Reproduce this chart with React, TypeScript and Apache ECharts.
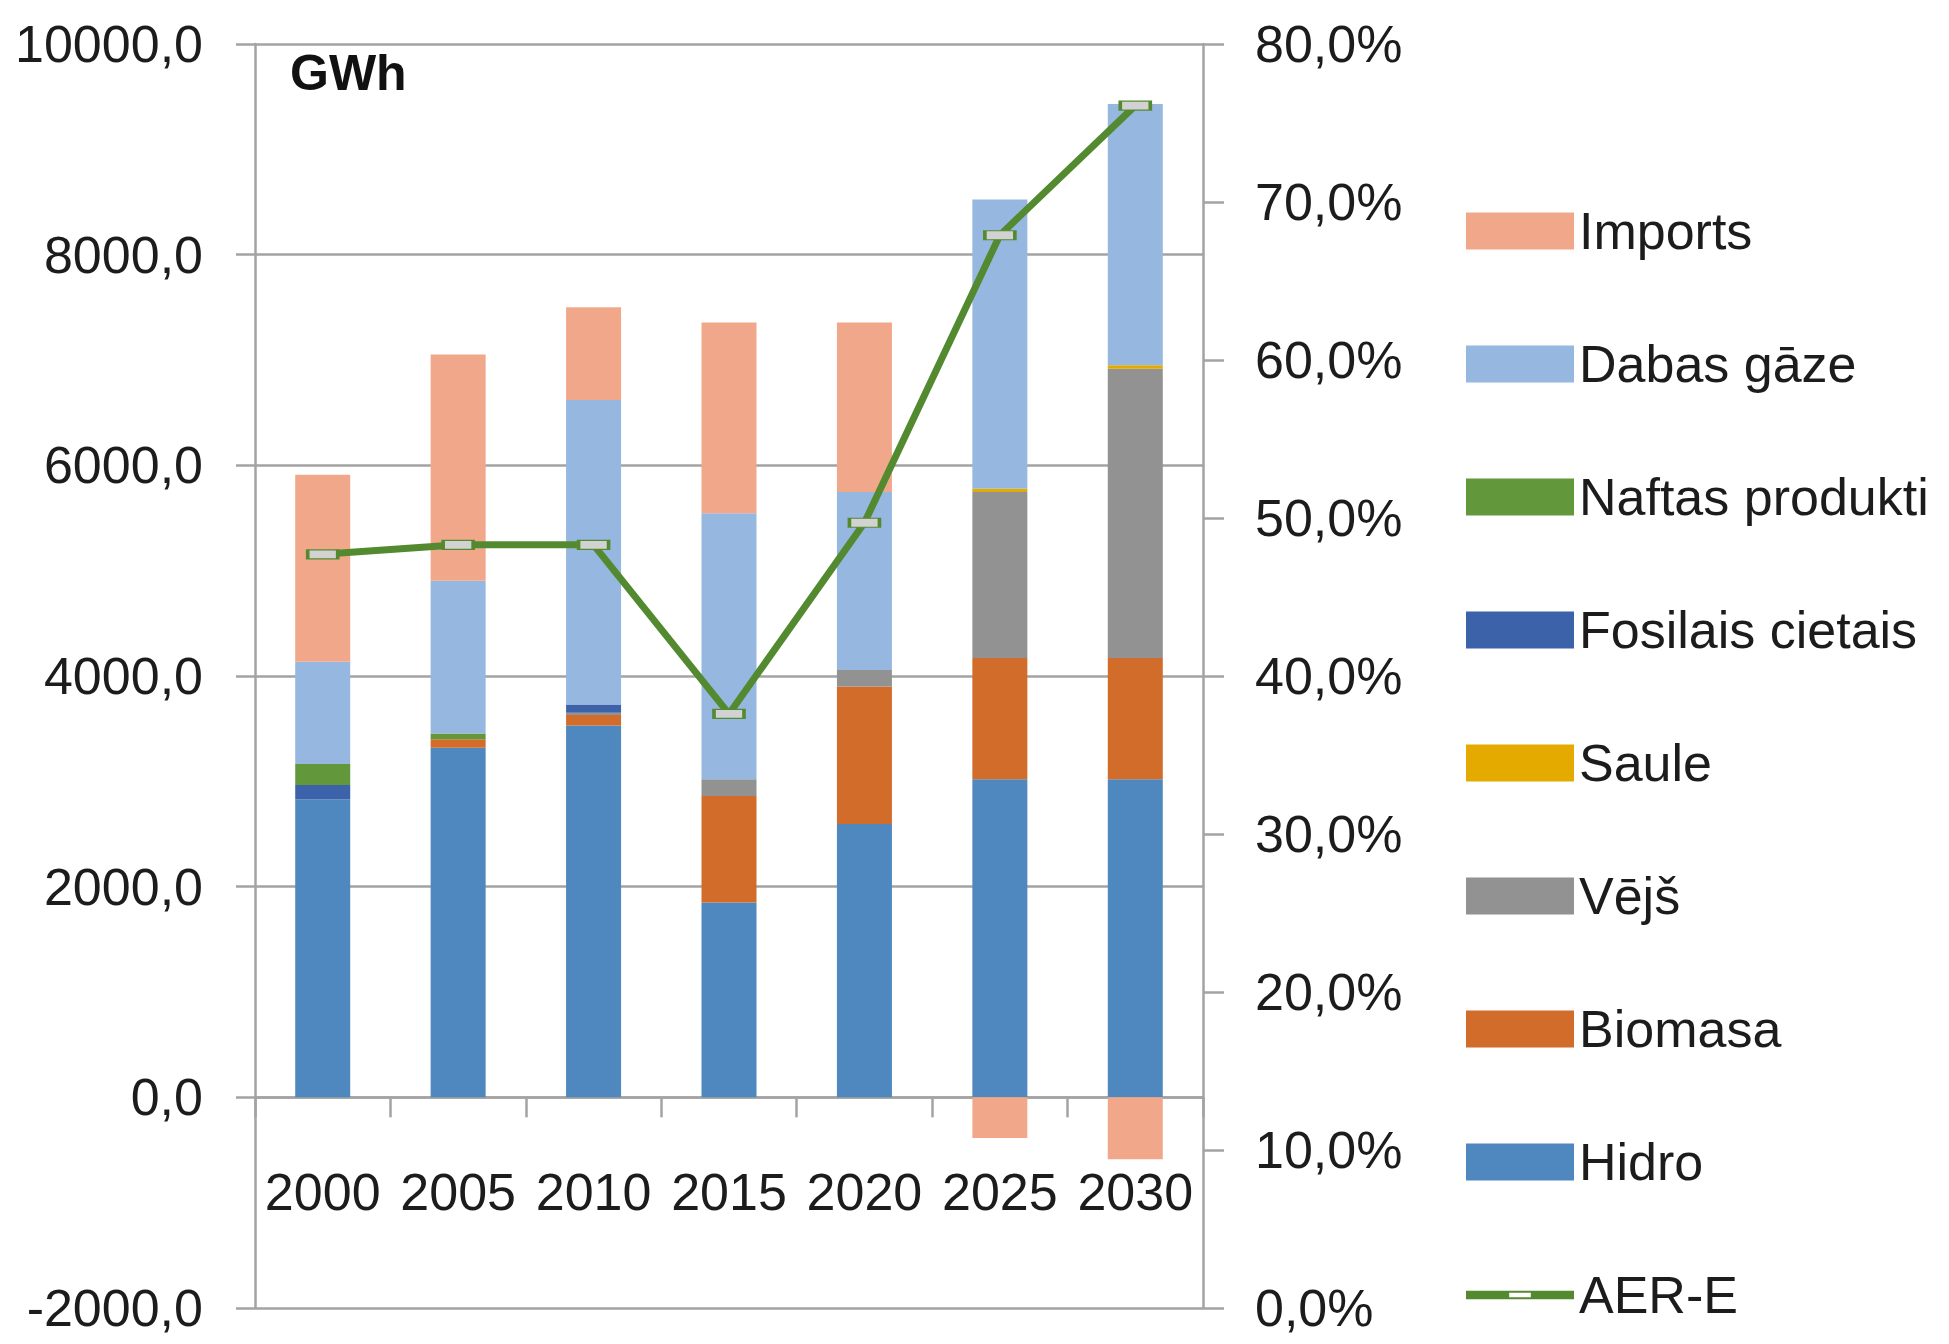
import React, { useEffect, useRef } from 'react';
import * as echarts from 'echarts';

const years = ['2000', '2005', '2010', '2015', '2020', '2025', '2030'];
const hidro = [2830, 3320, 3530, 1850, 2595, 3020, 3020];
const biomasa = [0, 80, 100, 1010, 1305, 1150, 1150];
const vejs = [0, 0, 20, 160, 157, 1578, 2747];
const saule = [0, 0, 0, 0, 0, 30, 34];
const fosilais = [135, 0, 80, 0, 0, 0, 0];
const naftas = [200, 55, 0, 0, 0, 0, 0];
const gaze = [970, 1450, 2890, 2525, 1690, 2745, 2480];
const imports = [1775, 2147, 880, 1810, 1610, -385, -588];
const aerE = [47.7, 48.3, 48.3, 37.6, 49.7, 67.9, 76.1];
const legendOrder = ['Imports', 'Dabas gāze', 'Naftas produkti', 'Fosilais cietais', 'Saule', 'Vējš', 'Biomasa', 'Hidro', 'AER-E'];

const FONT = '"Liberation Sans", Arial, sans-serif';
const FS = 52;
const TEXT = '#1c1c1c';
const GRID = '#A3A3A3';
const LINE_GREEN = '#538A30';

export default function App() {
  const ref = useRef<HTMLDivElement>(null);
  useEffect(() => {
    if (!ref.current) return;
    const chart = echarts.init(ref.current, null, { renderer: 'svg' });
    const barSeries = [
      { name: 'Hidro', data: hidro, color: '#4F88BE' },
      { name: 'Biomasa', data: biomasa, color: '#D26C2A' },
      { name: 'Vējš', data: vejs, color: '#929292' },
      { name: 'Saule', data: saule, color: '#E4AA00' },
      { name: 'Fosilais cietais', data: fosilais, color: '#3C62AA' },
      { name: 'Naftas produkti', data: naftas, color: '#63973C' },
      { name: 'Dabas gāze', data: gaze, color: '#96B7DF' },
      { name: 'Imports', data: imports, color: '#F1A88A' },
    ].map((s) => ({
      type: 'bar',
      name: s.name,
      stack: 'total',
      barWidth: 55,
      yAxisIndex: 0,
      data: s.data,
      itemStyle: { color: s.color },
    }));
    chart.setOption({
      animation: false,
      backgroundColor: '#ffffff',
      grid: { left: 255, right: 746, top: 44, bottom: 36, containLabel: false, outerBoundsMode: 'none' },
      xAxis: {
        type: 'category',
        data: years,
        axisLine: { onZero: true, onZeroAxisIndex: 0, lineStyle: { color: GRID, width: 2.5 } },
        axisTick: { show: true, length: 20, lineStyle: { color: GRID, width: 2.5 } },
        axisLabel: { interval: 0, margin: -142, fontSize: FS, color: TEXT, fontFamily: FONT },
        splitLine: { show: false },
      },
      yAxis: [
        {
          type: 'value',
          position: 'left',
          min: -2000,
          max: 10000,
          interval: 2000,
          axisLine: { show: true, lineStyle: { color: GRID, width: 2.5 } },
          axisTick: { show: true, length: 19, lineStyle: { color: GRID, width: 2.5 } },
          axisLabel: {
            margin: 52,
            fontSize: FS,
            color: TEXT,
            fontFamily: FONT,
            formatter: (v: number) => v.toFixed(1).replace('.', ','),
          },
          splitLine: { show: true, lineStyle: { color: GRID, width: 2.5 } },
        },
        {
          type: 'value',
          position: 'right',
          min: 0,
          max: 80,
          interval: 10,
          axisLine: { show: true, lineStyle: { color: GRID, width: 2.5 } },
          axisTick: { show: true, length: 21, lineStyle: { color: GRID, width: 2.5 } },
          axisLabel: {
            margin: 52,
            fontSize: FS,
            color: TEXT,
            fontFamily: FONT,
            formatter: (v: number) => v.toFixed(1).replace('.', ',') + '%',
          },
          splitLine: { show: false },
        },
      ],
      legend: {
        orient: 'vertical',
        left: 1461,
        top: 196,
        itemWidth: 108,
        itemHeight: 37,
        itemGap: 73,
        textStyle: { fontSize: FS, lineHeight: 60, color: TEXT, fontFamily: FONT },
        data: legendOrder.map((n) =>
          n === 'AER-E'
            ? {
                name: n,
                icon: 'path://M0,0 H100 V8 H0 Z M40,2 V6 H60 V2 Z',
                itemStyle: { color: LINE_GREEN, borderWidth: 0 },
              }
            : { name: n, icon: 'rect' }
        ),
      },
      graphic: [
        {
          type: 'text',
          left: 290,
          top: 48,
          z: 100,
          style: { text: 'GWh', fontSize: 50, fontWeight: 'bold', fontFamily: FONT, fill: '#111111' },
        },
      ],
      series: [
        ...barSeries,
        {
          type: 'line',
          name: 'AER-E',
          yAxisIndex: 1,
          data: aerE,
          symbol: 'rect',
          symbolSize: [30, 9],
          z: 10,
          lineStyle: { color: LINE_GREEN, width: 7 },
          itemStyle: { color: '#D2D2D2', borderColor: LINE_GREEN, borderWidth: 2 },
        },
      ],
    });
    return () => chart.dispose();
  }, []);
  return (
    <div
      ref={ref}
      style={{ position: 'fixed', left: 0, top: 0, width: 1949, height: 1344, background: '#ffffff' }}
    />
  );
}
